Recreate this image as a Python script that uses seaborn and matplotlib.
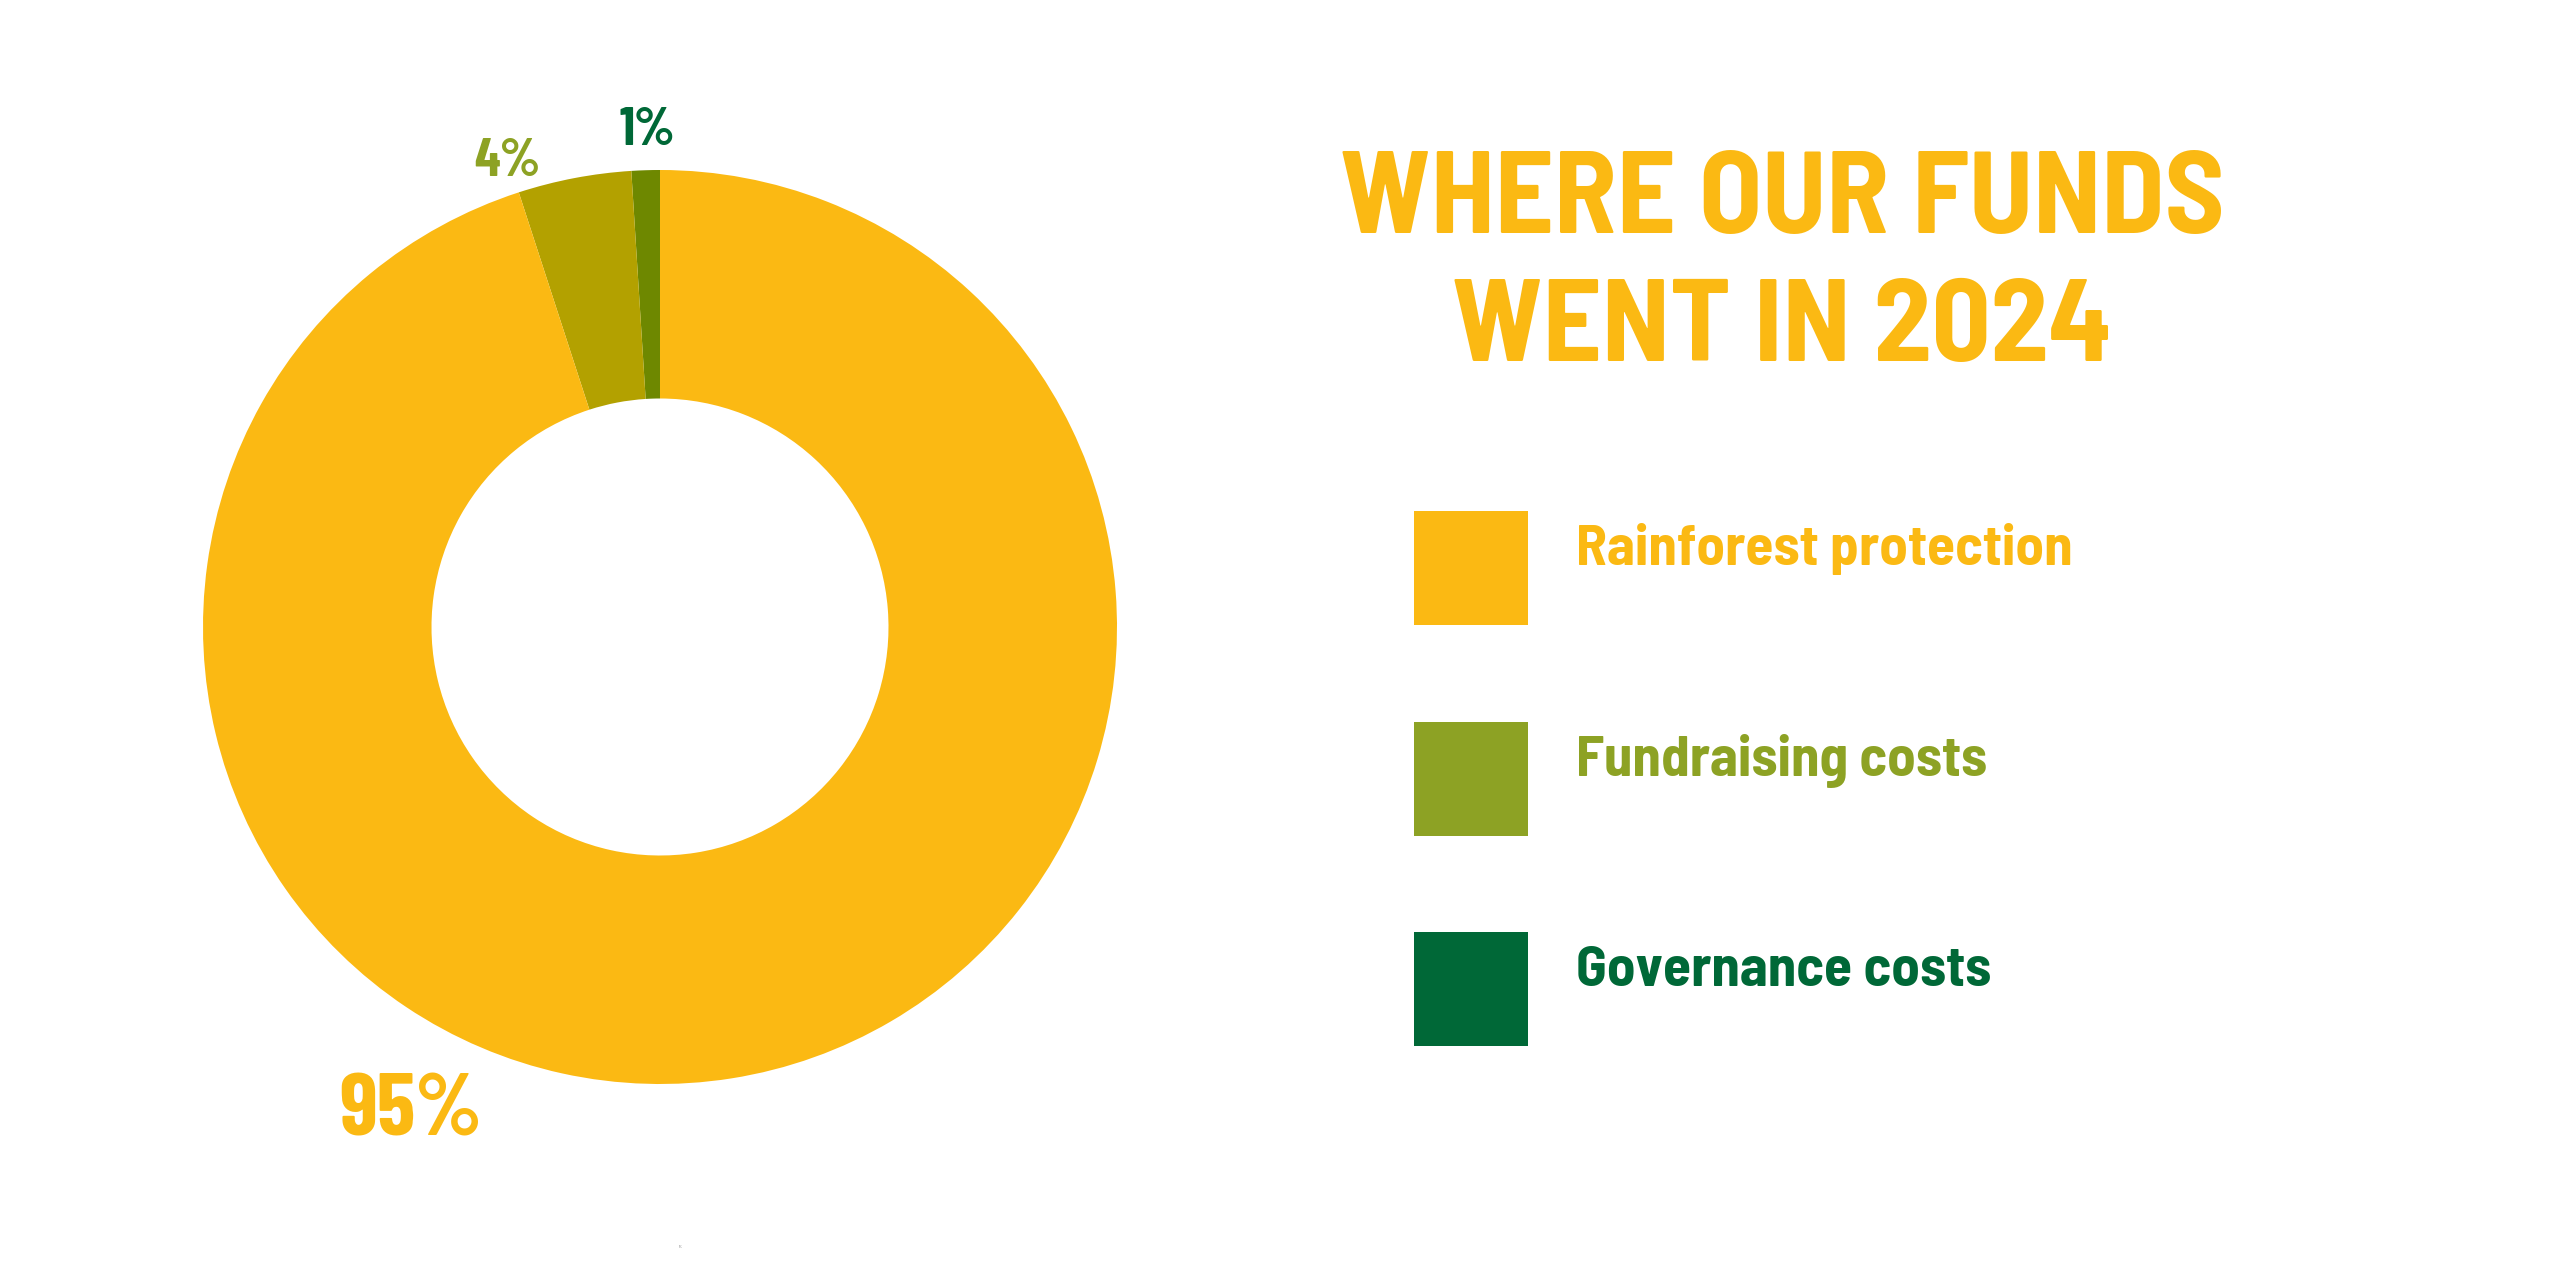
import matplotlib
matplotlib.use("Agg")
import matplotlib.pyplot as plt
from matplotlib import font_manager
from matplotlib.patches import Rectangle
import seaborn as sns

# ---- data ----
categories = ["Governance costs", "Fundraising costs", "Rainforest protection"]
values = [1, 4, 95]
pct_labels = ["1%", "4%", "95%"]
wedge_colors = ["#6E8800", "#B3A100", "#FBB913"]
label_colors = ["#006837", "#8DA224", "#FBB913"]
legend_labels = ["Rainforest protection", "Fundraising costs", "Governance costs"]
legend_colors = ["#FBB913", "#8DA224", "#006837"]
title_lines = ["WHERE OUR FUNDS", "WENT IN 2024"]

sns.set_theme(style="white")
names = {f.name for f in font_manager.fontManager.ttflist}
fam = "Barlow Condensed" if "Barlow Condensed" in names else "DejaVu Sans"
wide = "Barlow Semi Condensed" if "Barlow Semi Condensed" in names else fam
plt.rcParams["font.family"] = [fam, "DejaVu Sans"]
WEIGHT = 700

W, H = 2560, 1280
PT = 72 / 100  # px -> pt
fig = plt.figure(figsize=(W / 100, H / 100), dpi=100)
fig.patch.set_facecolor("white")

# donut axes
cx, cy, R = 660, 627, 457
ax = fig.add_axes([(cx - R) / W, (H - cy - R) / H, 2 * R / W, 2 * R / H])
ax.pie(values, colors=wedge_colors, startangle=90, counterclock=True,
       radius=1, wedgeprops=dict(width=0.5, linewidth=0))
ax.set_xlim(-1, 1)
ax.set_ylim(-1, 1)
ax.set_aspect("equal")
ax.axis("off")

# label positions (pixel: center x, baseline y) and cap heights
label_px = [(647, 145), (507, 176), (411, 1136)]
label_cap = [37, 37, 61]
for txt, (px, py), c, cap in zip(pct_labels, label_px, label_colors, label_cap):
    ax.text((px - cx) / R, (cy - py) / R, txt, color=c, fontsize=cap / 0.7 * PT,
            fontweight=WEIGHT, ha="center", va="baseline", clip_on=False)

# title
for line, base in zip(title_lines, [233, 361]):
    fig.text(1782 / W, 1 - base / H, line, color="#FBB913", fontsize=81 / 0.7 * PT,
             fontweight=WEIGHT, ha="center", va="baseline", family=[wide, "DejaVu Sans"])

# legend
lax = fig.add_axes([0, 0, 1, 1])
lax.set_xlim(0, W)
lax.set_ylim(H, 0)
lax.axis("off")
tops = [511, 722, 932]
bases = [565, 776, 986]
for lab, col, top, base in zip(legend_labels, legend_colors, tops, bases):
    lax.add_patch(Rectangle((1414, top), 114, 114, facecolor=col, edgecolor="none"))
    lax.text(1576, base, lab, color=col, fontsize=40 / 0.7 * PT, fontweight=WEIGHT,
             ha="left", va="baseline", family=[wide, "DejaVu Sans"])

fig.text(681 / W, 1 - 1247 / H, "1%", color="#888888", fontsize=3, ha="center", va="center")

fig.savefig("out.png", dpi=100, facecolor="white")
